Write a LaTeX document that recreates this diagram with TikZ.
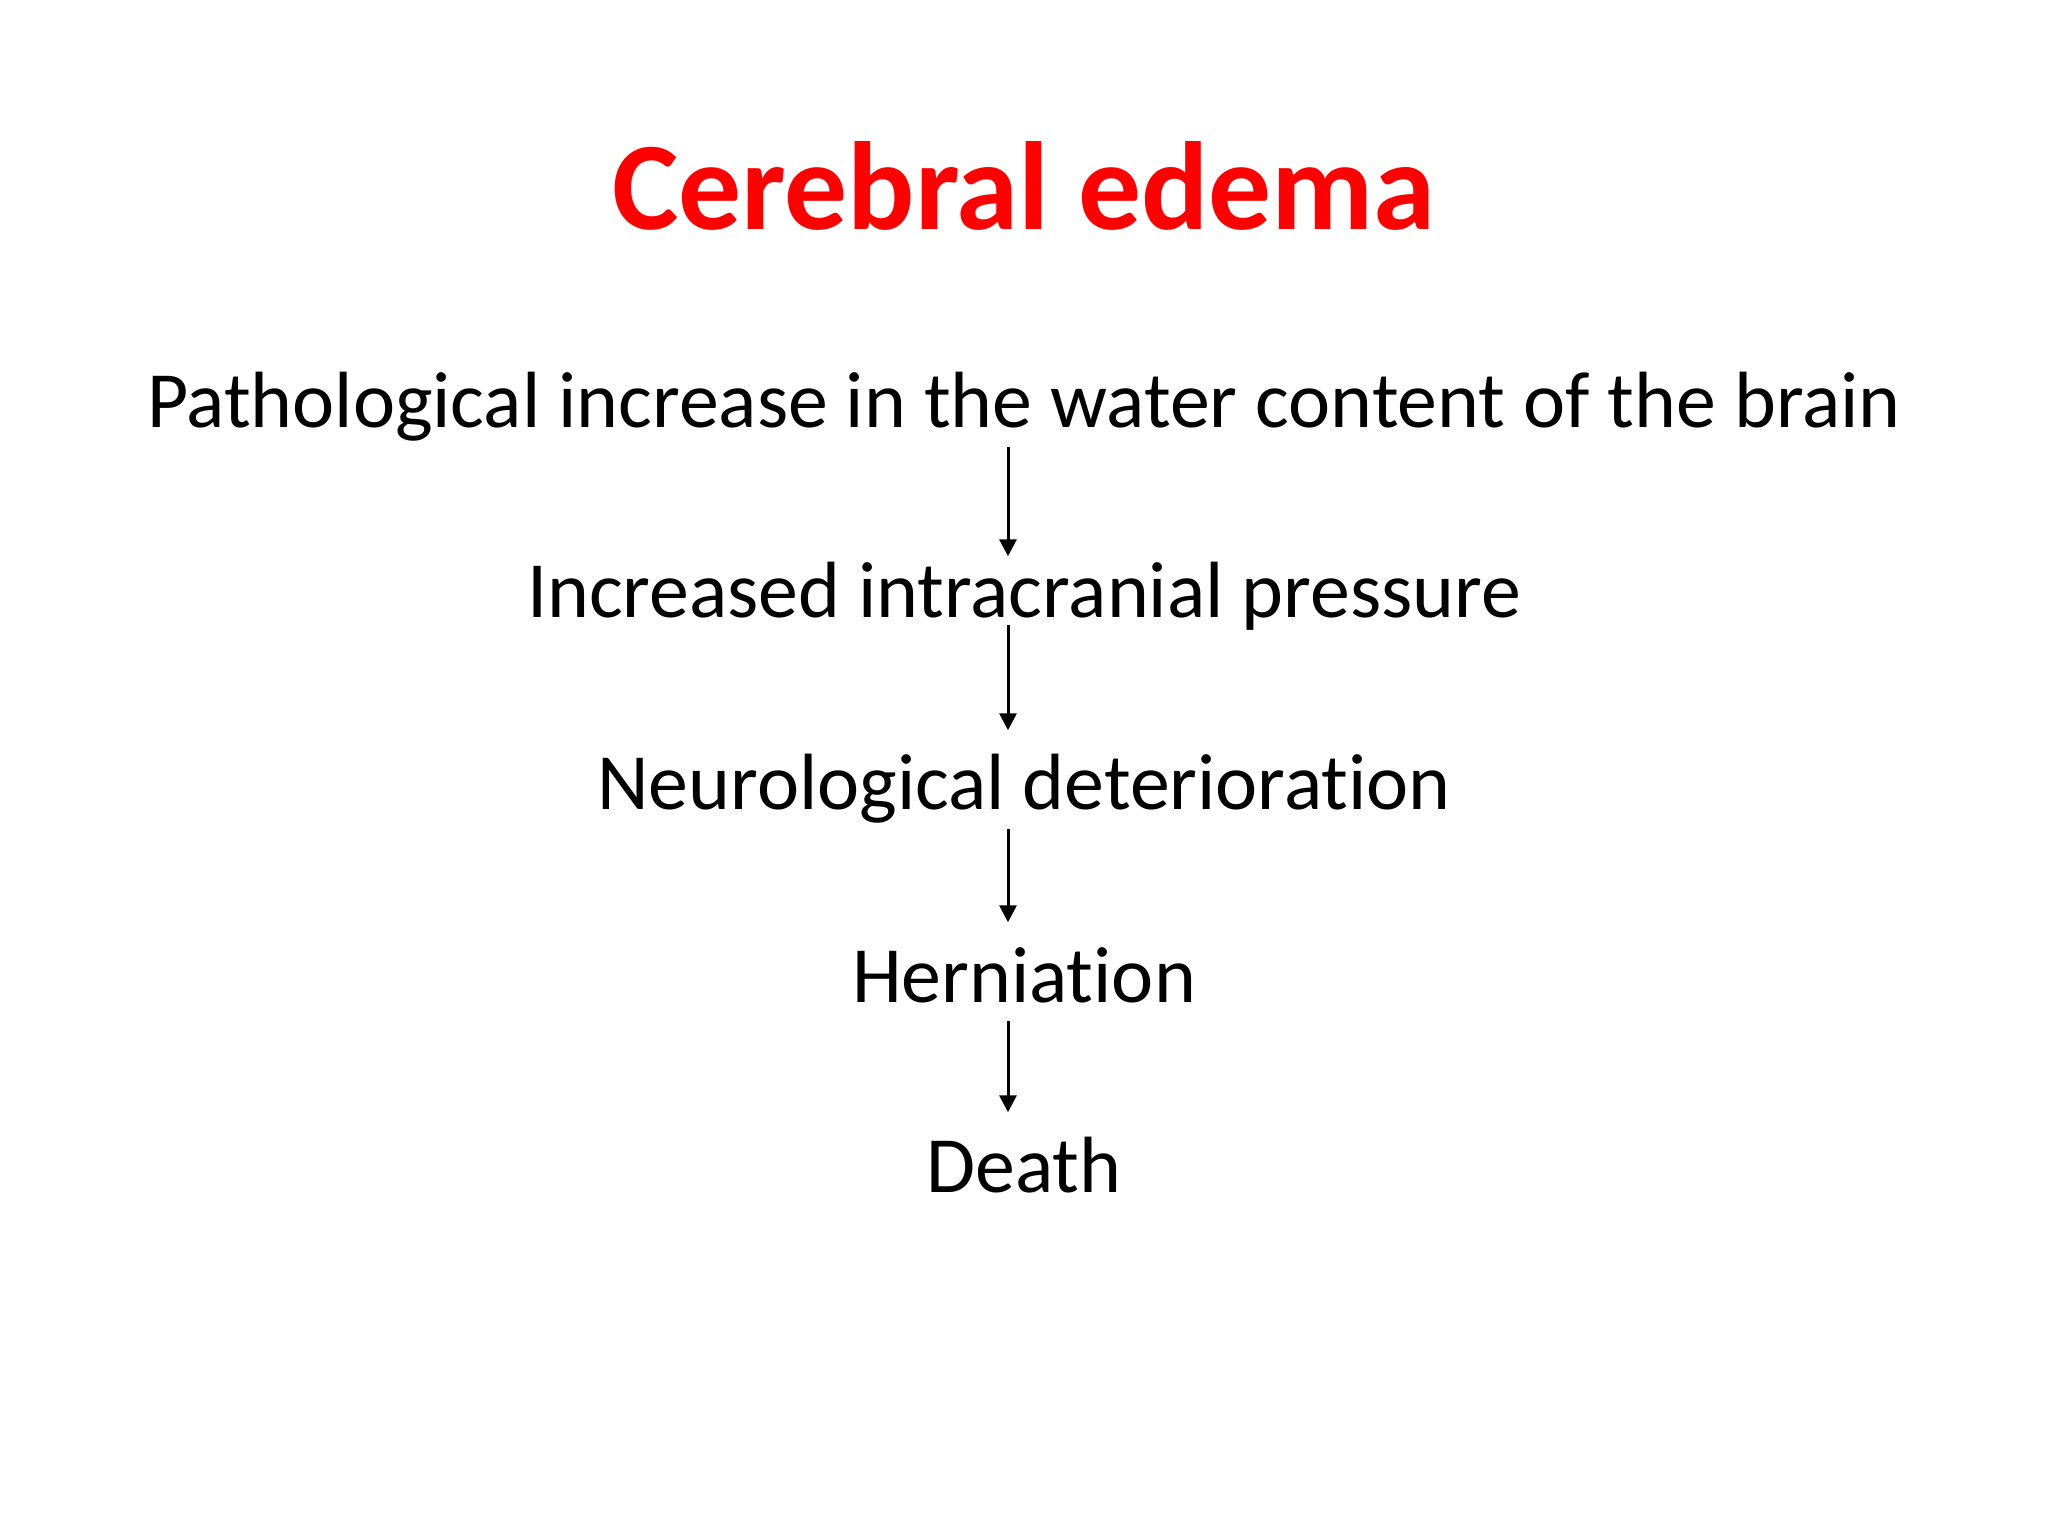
\documentclass[tikz,border=0pt]{standalone}
\usepackage{fontspec}
\setmainfont{Carlito}[Ligatures=NoCommon]
\usetikzlibrary{positioning, arrows.meta}

\tikzset{
  line/.style={anchor=base, inner xsep=0pt, inner ysep=0pt, text height=0.56cm, text depth=0.18cm, font=\fontsize{22.7}{27}\selectfont},
  flow/.style={-{Triangle[length=0.17cm, width=0.17cm]}, line width=0.03cm, shorten >=0.23cm}
}

\begin{document}
\begin{tikzpicture}
	\useasboundingbox (0,0) rectangle (20.48,-15.36);
	
	\node[anchor=base, text=red, font=\fontsize{35.7}{40}\selectfont\bfseries] (title) at (10.24,-2.30) {Cerebral edema};
	
	\node[line] (p) at (10.24,-4.28) {Pathological increase in the water content of the brain};
	\node[line] (icp) at (10.24,-6.18) {Increased intracranial pressure};
	\node[line] (nd) at (10.24,-8.10) {Neurological deterioration};
	\node[line] (h) at (10.24,-10.02) {Herniation};
	\node[line] (d) at (10.24,-11.92) {Death};
	
	\draw[flow, shorten >=0.05cm] ([xshift=-1.6mm]p.south) -- ([xshift=-1.6mm]icp.north);
	\draw[flow, shorten <=-0.12cm] ([xshift=-1.6mm]icp.south) -- ([xshift=-1.6mm]nd.north);
	\draw[flow] ([xshift=-1.6mm]nd.south) -- ([xshift=-1.6mm]h.north);
	\draw[flow] ([xshift=-1.6mm]h.south) -- ([xshift=-1.6mm]d.north);
\end{tikzpicture}
\end{document}
